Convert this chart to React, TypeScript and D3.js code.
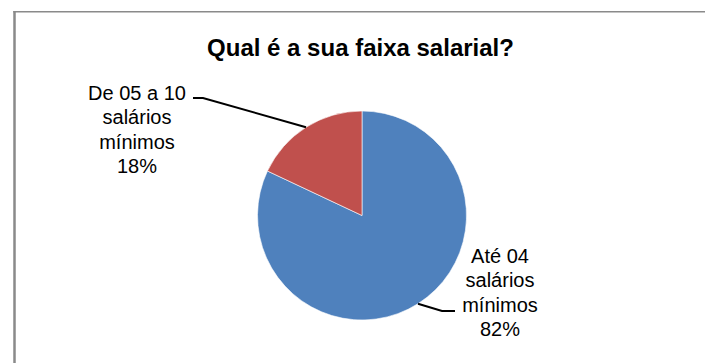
import React from "react";
import * as d3 from "d3";

// Salary bands and their shares (%)
const categories = ["Até 04 salários mínimos", "De 05 a 10 salários mínimos"];
const values = [82, 18];
const labelLines = [
  ["Até 04", "salários", "mínimos", "82%"],
  ["De 05 a 10", "salários", "mínimos", "18%"],
];
const colors = ["#4F81BD", "#C0504D"];
const title = "Qual é a sua faixa salarial?";

const W = 705;
const H = 363;
const cx = 362;
const cy = 215.5;
const R = 104.5;
const FONT = "'Liberation Sans', Arial, sans-serif";
const LINE_H = 24.3;

// Label block placement: centre x, first baseline, leader elbow and end
const labelLayout = [
  { x: 500, y: 263, elbow: [442, 311], end: [455, 311] },
  { x: 137, y: 100, elbow: [203, 98], end: [193, 98] },
];

export default function App() {
  const pie = d3
    .pie<number>()
    .sort(null)
    .value((d) => d)
    .startAngle(0)
    .endAngle(2 * Math.PI);
  const arcs = pie(values);
  const arc = d3.arc<d3.PieArcDatum<number>>().innerRadius(0).outerRadius(R);
  const edge = d3.arc<d3.PieArcDatum<number>>().innerRadius(R).outerRadius(R);

  return (
    <svg
      width={W}
      height={H}
      style={{ position: "absolute", left: 0, top: 0, background: "#fff" }}
    >
      <rect x={0} y={0} width={W} height={H} fill="#fff" />
      {/* chart frame */}
      <line x1={14.5} y1={11} x2={14.5} y2={H} stroke="#8a8a8a" strokeWidth={2.5} />
      <line x1={13.3} y1={11.8} x2={W} y2={11.8} stroke="#8a8a8a" strokeWidth={1.6} />

      <text
        x={360.5}
        y={56}
        textAnchor="middle"
        fontFamily={FONT}
        fontWeight="bold"
        fontSize={24}
        fill="#000"
      >
        {title}
      </text>

      <g transform={`translate(${cx},${cy})`}>
        {arcs.map((a, i) => (
          <path
            key={categories[i]}
            d={arc(a) || ""}
            fill={colors[i]}
            stroke="#fff"
            strokeWidth={0.6}
          />
        ))}
      </g>

      {arcs.map((a, i) => {
        const [px, py] = edge.centroid(a);
        const lay = labelLayout[i];
        return (
          <g key={"lbl" + i}>
            <polyline
              points={`${cx + px},${cy + py} ${lay.elbow[0]},${lay.elbow[1]} ${lay.end[0]},${lay.end[1]}`}
              fill="none"
              stroke="#000"
              strokeWidth={2}
            />
            <text
              textAnchor="middle"
              fontFamily={FONT}
              fontSize={20}
              fill="#000"
            >
              {labelLines[i].map((t, j) => (
                <tspan key={j} x={lay.x} y={lay.y + j * LINE_H}>
                  {t}
                </tspan>
              ))}
            </text>
          </g>
        );
      })}
    </svg>
  );
}
